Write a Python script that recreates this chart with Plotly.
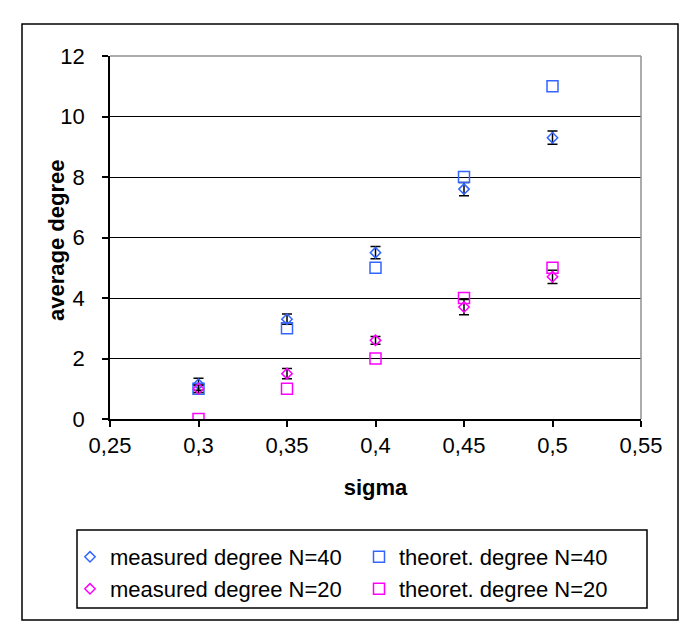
import plotly.graph_objects as go

# ---- data ----
sigma = [0.3, 0.35, 0.4, 0.45, 0.5]
measured_n40 = [1.15, 3.3, 5.5, 7.6, 9.3]
measured_n40_err = [0.2, 0.17, 0.2, 0.22, 0.22]
theoret_n40 = [1, 3, 5, 8, 11]
measured_n20 = [1.0, 1.5, 2.6, 3.7, 4.7]
measured_n20_err = [0.12, 0.17, 0.13, 0.25, 0.22]
theoret_n20 = [0, 1, 2, 4, 5]

BLUE = "#3366FF"
MAGENTA = "#FF00FF"
FONT = "Liberation Sans, Arial, sans-serif"

OFF = 8  # page body margin
W, H = 699, 640
PL, PR, PT, PB = 110, 641, 56, 419  # plot area in screen pixels
L = PL - OFF
T = PT - OFF
R = W - (PR - OFF)
B = H - (PB - OFF)
PW, PH = W - L - R, H - T - B


def px_x(x):
    return (x - OFF - L) / PW


def px_y(y):
    return (H - B - (y - OFF)) / PH


err_style = dict(type="data", visible=True, color="black", thickness=1.5, width=5)

fig = go.Figure()
fig.add_trace(go.Scatter(
    x=sigma, y=measured_n40, mode="markers", name="measured degree N=40", legend="legend",
    marker=dict(symbol="diamond-open", size=8, color=BLUE, line=dict(width=1.5, color=BLUE)),
    error_y=dict(array=measured_n40_err, **err_style)))
fig.add_trace(go.Scatter(
    x=sigma, y=theoret_n40, mode="markers", name="theoret. degree N=40", legend="legend2",
    marker=dict(symbol="square-open", size=11, color=BLUE, line=dict(width=1.5, color=BLUE))))
fig.add_trace(go.Scatter(
    x=sigma, y=measured_n20, mode="markers", name="measured degree N=20", legend="legend3",
    marker=dict(symbol="diamond-open", size=8, color=MAGENTA, line=dict(width=1.5, color=MAGENTA)),
    error_y=dict(array=measured_n20_err, **err_style)))
fig.add_trace(go.Scatter(
    x=sigma, y=theoret_n20, mode="markers", name="theoret. degree N=20", legend="legend4",
    marker=dict(symbol="square-open", size=11, color=MAGENTA, line=dict(width=1.5, color=MAGENTA))))


def leg(xs, ys):
    return dict(orientation="h", x=px_x(xs), y=px_y(ys), xanchor="left", yanchor="top",
                borderwidth=0, bgcolor="rgba(0,0,0,0)",
                font=dict(family=FONT, size=22, color="black"))


fig.update_layout(
    width=W, height=H,
    margin=dict(l=L, r=R, t=T, b=B, autoexpand=False),
    paper_bgcolor="white", plot_bgcolor="white",
    font=dict(family=FONT, size=22, color="black"),
    separators=", ",
    showlegend=True,
    legend=leg(70, 536),
    legend2=leg(359, 536),
    legend3=leg(70, 568),
    legend4=leg(359, 568),
    xaxis=dict(
        range=[0.25, 0.55], dtick=0.05, tick0=0.25,
        showgrid=False, zeroline=False,
        showline=True, linecolor="black", linewidth=1.5,
        ticks="outside", ticklen=6, tickcolor="black", tickwidth=1.5,
        tickfont=dict(family=FONT, size=22),
        title=dict(text="<b>sigma</b>", font=dict(family=FONT, size=22), standoff=22),
    ),
    yaxis=dict(
        range=[0, 12], dtick=2,
        showgrid=True, gridcolor="black", gridwidth=1,
        zeroline=False,
        showline=True, linecolor="black", linewidth=1.5,
        ticks="outside", ticklen=6, tickcolor="black", tickwidth=1.5,
        tickfont=dict(family=FONT, size=22),
        ticklabelstandoff=13,
        title=dict(text=""),
    ),
    annotations=[
        dict(text="<b>average degree</b>", textangle=-90, showarrow=False,
             xref="paper", yref="paper", x=px_x(57), y=px_y(241),
             xanchor="center", yanchor="middle",
             font=dict(family=FONT, size=22, color="black")),
    ],
    shapes=[
        # outer chart frame
        dict(type="rect", xref="paper", yref="paper",
             x0=px_x(22), x1=px_x(678), y0=px_y(620), y1=px_y(24),
             line=dict(color="black", width=1.5), layer="below"),
        # legend frame
        dict(type="rect", xref="paper", yref="paper",
             x0=px_x(77), x1=px_x(647), y0=px_y(608), y1=px_y(530),
             line=dict(color="black", width=1.5), layer="below"),
        # plot-area top and right border (grey)
        dict(type="line", xref="paper", yref="paper", x0=0, x1=1, y0=1, y1=1,
             line=dict(color="#909090", width=1.5), layer="above"),
        dict(type="line", xref="paper", yref="paper", x0=1, x1=1, y0=0, y1=1,
             line=dict(color="#909090", width=1.5), layer="above"),
    ],
)

fig.write_html("out.html")
